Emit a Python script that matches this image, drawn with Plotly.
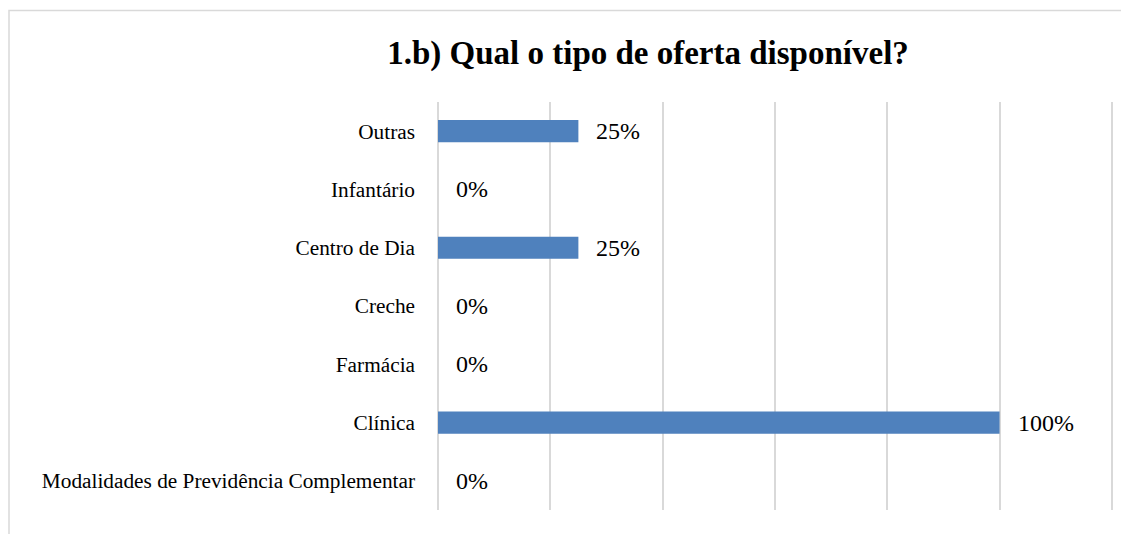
import plotly.graph_objects as go

categories = ["Modalidades de Previdência Complementar", "Clínica", "Farmácia",
              "Creche", "Centro de Dia", "Infantário", "Outras"]
values = [0.0, 1.0, 0.0, 0.0, 0.25, 0.0, 0.25]
labels = ["0%", "100%", "0%", "0%", "25%", "0%", "25%"]
title_text = "1.b) Qual o tipo de oferta disponível?"

FONT = "Liberation Serif"

# page body adds an 8px offset; figure is sized so it ends at the window edge
W, H = 1121, 526
ML, MR, MT, MB = 430, 16, 94, 24
PW, PH = W - ML - MR, H - MT - MB

fig = go.Figure()
fig.add_trace(go.Bar(
    y=categories, x=values, orientation="h",
    marker=dict(color="#4f81bd", line=dict(width=0)),
    width=0.38, hoverinfo="skip",
))

for c, v, t in zip(categories, values, labels):
    fig.add_annotation(x=v, y=c, xref="x", yref="y", text=t, showarrow=False,
                       xanchor="left", yanchor="middle", xshift=16,
                       font=dict(family=FONT, size=24, color="#000000"))

fig.add_shape(type="rect", xref="paper", yref="paper",
              x0=(1 - ML) / PW, x1=1.2, y0=-0.2, y1=1 + (MT - 2.5) / PH,
              line=dict(color="#d9d9d9", width=1.5), fillcolor="rgba(0,0,0,0)",
              layer="below")

fig.update_layout(
    width=W, height=H,
    margin=dict(l=ML, r=MR, t=MT, b=MB),
    paper_bgcolor="white", plot_bgcolor="white",
    showlegend=False,
    title=dict(text="<b>" + title_text + "</b>", xref="container", yref="container",
               x=640/W, y=1 - 44/H, xanchor="center", yanchor="middle",
               font=dict(family=FONT, size=33, color="#000000")),
    font=dict(family=FONT, color="#000000"),
)
fig.update_xaxes(range=[0, 1.202], tick0=0, dtick=0.2, showticklabels=False,
                 showgrid=True, gridcolor="#d9d9d9", gridwidth=1.5,
                 zeroline=True, zerolinecolor="#d9d9d9", zerolinewidth=1.5,
                 showline=False, fixedrange=True)
fig.update_yaxes(categoryorder="array", categoryarray=categories,
                 showgrid=False, showline=False, zeroline=False,
                 ticks="", ticklabelstandoff=22,
                 tickfont=dict(family=FONT, size=21.3, color="#000000"),
                 fixedrange=True)

fig.write_html("out.html")
